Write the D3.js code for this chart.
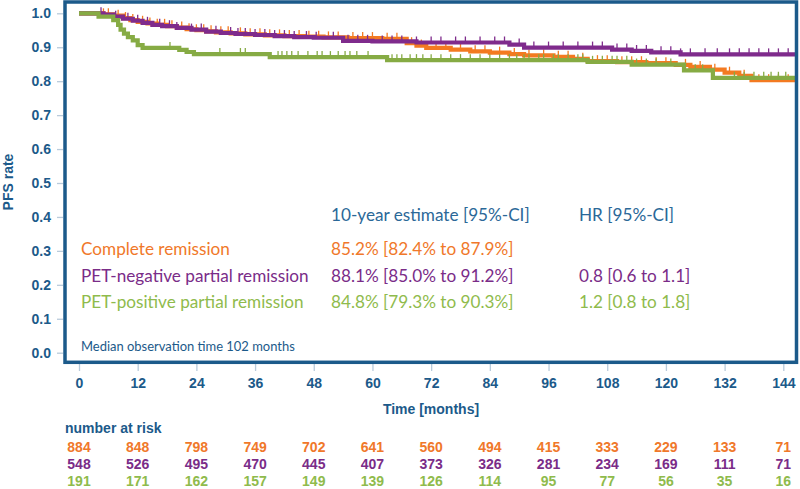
<!DOCTYPE html>
<html><head><meta charset="utf-8">
<script src="https://cdn.jsdelivr.net/npm/d3@7"></script>
<style>
html,body{margin:0;padding:0;background:#fff;}
svg{display:block;}
</style></head>
<body>
<svg id="chart" width="800" height="489"></svg>
<script>
// ---------- data ----------
const monthTicks = [0,12,24,36,48,60,72,84,96,108,120,132,144];
const yTicks = [0,0.1,0.2,0.3,0.4,0.5,0.6,0.7,0.8,0.9,1.0];
const groups = ["Complete remission","PET-negative partial remission","PET-positive partial remission"];
const estimates = ["85.2% [82.4% to 87.9%]","88.1% [85.0% to 91.2%]","84.8% [79.3% to 90.3%]"];
const hazardRatios = ["","0.8 [0.6 to 1.1]","1.2 [0.8 to 1.8]"];
const riskCR = [884,848,798,749,702,641,560,494,415,333,229,133,71];
const riskPN = [548,526,495,470,445,407,373,326,281,234,169,111,71];
const riskPP = [191,171,162,157,149,139,126,114,95,77,56,35,16];

// step curves: time (months) where survival changes, and new survival value
const crTimes = [0,5,7,9,10.5,12,14,16,18,20,22,24,26,28,31,34,38,42,46,50,55,62,67,69,71,76,80,84,88,91,97,101,104,110,116,122,125,129,132,135,137.5,146.6];
const crSurv  = [1,0.997,0.993,0.986,0.980,0.975,0.970,0.966,0.962,0.958,0.953,0.950,0.947,0.944,0.941,0.938,0.935,0.933,0.931,0.929,0.927,0.925,0.912,0.905,0.898,0.893,0.888,0.884,0.880,0.876,0.872,0.866,0.859,0.856,0.853,0.848,0.842,0.834,0.825,0.816,0.803,0.803];
const pnTimes = [0,5,7,9,11,13,15,17,20,23,26,29,32,36,40,44,48,54,60,69,88,91,109,113,117,123,146.6];
const pnSurv  = [1,0.996,0.990,0.984,0.978,0.972,0.966,0.962,0.957,0.952,0.946,0.942,0.939,0.936,0.933,0.930,0.928,0.919,0.917,0.914,0.908,0.899,0.893,0.889,0.885,0.879,0.879];
const ppTimes = [0,4,7,8,8.5,9.2,10,11,12,13,20.5,22,23.5,39,63,104,113,123.7,129.6,146.6];
const ppSurv  = [1,0.990,0.980,0.966,0.952,0.940,0.930,0.920,0.906,0.898,0.892,0.886,0.880,0.871,0.862,0.857,0.849,0.832,0.810,0.810];

const crCensor = [5,6,8,9.5,11,13,14.5,16,17.5,19,21,22.5,24,25.5,27,29,30.5,33,35,37,39,41,43,45,47,49,51,53,56,58,60,63,65,68,70,73,75,78,81,83,86,89,92,95,98,100,103,106,108,111,113,115,118,120,124,127,130,133,136,139,141,143,145];
const pnCensor = [4.5,7.5,10,12,14,16.5,18.5,20,23,25,28,31,32.5,34,36,38,40,42,44,46.5,48.5,52,55,57,59,62,64,66,69,72,74,77,79,82,85,87,90,93,96,99,102,105,107,110,112,114,116,119,121,123,125,128,130.5,133,135,137,139,141,143,145];
const ppCensor = [18.6,28.8,33,34,40.7,41.5,42.5,43.5,44.8,46.8,48.7,49.7,51.4,53,54.4,55.4,56.8,59.1,64,65,66,67.7,69,70.3,72,74,76,78,80,82,84,86,88,89.5,91,92,94,95,97,98,100,102,103,105,107,109,110,112,114,116,118,121,126,127.5,134,136,138,140,141.5,143,144.5];

// ---------- styles ----------
const navy = "#1c5a8a";
const tickGrey = "#b9cbdb";
const lineColors = ["#f37a21","#7f2b8c","#86ab44"];
const textColors = ["#f0782a","#7a2c88","#8fbb4c"];
const headerColor = "#2b6898";

const svg = d3.select("#chart");
const x = d3.scaleLinear().domain([0,144]).range([79,783.3]);
const y = d3.scaleLinear().domain([0,1]).range([352.7,13.3]);

// clip to plot frame
svg.append("defs").append("clipPath").attr("id","clip")
  .append("rect").attr("x",66).attr("y",3).attr("width",729).attr("height",358);

// ---------- axes ----------
const yAxis = d3.axisLeft(y).tickValues(yTicks).tickFormat(d3.format(".1f")).tickSize(6).tickPadding(6);
const gy = svg.append("g").attr("transform","translate(63,0)").call(yAxis);
gy.select(".domain").remove();
gy.selectAll(".tick line").attr("stroke",tickGrey).attr("stroke-width",1.3);
gy.selectAll(".tick text").attr("fill",navy).attr("font-family","'Liberation Sans',Arial,sans-serif")
  .attr("font-weight","bold").attr("font-size",14);

const xAxis = d3.axisBottom(x).tickValues(monthTicks).tickFormat(d3.format("d")).tickSize(7).tickPadding(7);
const gx = svg.append("g").attr("transform","translate(0,364)").call(xAxis);
gx.select(".domain").remove();
gx.selectAll(".tick line").attr("stroke",tickGrey).attr("stroke-width",1.3);
gx.selectAll(".tick text").attr("fill",navy).attr("font-family","'Liberation Sans',Arial,sans-serif")
  .attr("font-weight","bold").attr("font-size",14);

// axis titles
svg.append("text").attr("transform","translate(13,182) rotate(-90)").attr("text-anchor","middle")
  .attr("fill",navy).attr("font-family","'Liberation Sans',Arial,sans-serif").attr("font-weight","bold")
  .attr("font-size",14).text("PFS rate");
svg.append("text").attr("x",431).attr("y",414).attr("text-anchor","middle")
  .attr("fill",navy).attr("font-family","'Liberation Sans',Arial,sans-serif").attr("font-weight","bold")
  .attr("font-size",14).text("Time [months]");

// ---------- curves ----------
const series = [
  {t:crTimes,s:crSurv,c:crCensor},
  {t:pnTimes,s:pnSurv,c:pnCensor},
  {t:ppTimes,s:ppSurv,c:ppCensor}
];
function survAt(sr, tt){
  let v = sr.s[0];
  for(let i=0;i<sr.t.length;i++){ if(sr.t[i] <= tt) v = sr.s[i]; }
  return v;
}
const line = d3.line().x(d=>x(d[0])).y(d=>y(d[1])).curve(d3.curveStepAfter);
const plot = svg.append("g").attr("clip-path","url(#clip)");
series.forEach((sr,i)=>{
  const pts = sr.t.map((t,k)=>[t,sr.s[k]]);
  const g = plot.append("g");
  g.append("path").datum(pts).attr("d",line).attr("fill","none")
    .attr("stroke",lineColors[i]).attr("stroke-width",4.2);
  g.selectAll("line.cens").data(sr.c).join("line").attr("class","cens")
    .attr("x1",d=>x(d)).attr("x2",d=>x(d))
    .attr("y1",d=>y(survAt(sr,d))-6).attr("y2",d=>y(survAt(sr,d))+1)
    .attr("stroke",lineColors[i]).attr("stroke-width",1.3);
});

// frame
svg.append("rect").attr("x",65).attr("y",2).attr("width",731.5).attr("height",360.3)
  .attr("fill","none").attr("stroke",navy).attr("stroke-width",3.5);

// ---------- legend / estimates ----------
const legFont = "Lato, 'Open Sans', sans-serif";
// size the legend font so "Complete remission" spans ~149 px as in the reference
const probe = svg.append("text").attr("font-family",legFont).attr("font-size",100).text(groups[0]);
const legSize = 100*149/probe.node().getComputedTextLength();
probe.remove();

const rowsY = [255,281.5,308];
svg.append("text").attr("x",331).attr("y",221).attr("fill",headerColor).attr("font-family",legFont)
  .attr("font-size",legSize).text("10-year estimate [95%-CI]");
svg.append("text").attr("x",579).attr("y",221).attr("fill",headerColor).attr("font-family",legFont)
  .attr("font-size",legSize).text("HR [95%-CI]");
groups.forEach((g,i)=>{
  svg.append("text").attr("x",81).attr("y",rowsY[i]).attr("fill",textColors[i]).attr("font-family",legFont)
    .attr("font-size",legSize).text(g);
  svg.append("text").attr("x",331).attr("y",rowsY[i]).attr("fill",textColors[i]).attr("font-family",legFont)
    .attr("font-size",legSize).text(estimates[i]);
  if(hazardRatios[i]) svg.append("text").attr("x",579).attr("y",rowsY[i]).attr("fill",textColors[i]).attr("font-family",legFont)
    .attr("font-size",legSize).text(hazardRatios[i]);
});
const probe2 = svg.append("text").attr("font-family",legFont).attr("font-size",100).text("Median observation time 102 months");
const medSize = 100*214/probe2.node().getComputedTextLength();
probe2.remove();
svg.append("text").attr("x",81).attr("y",351).attr("fill",navy).attr("font-family",legFont)
  .attr("font-size",medSize).text("Median observation time 102 months");

// ---------- number at risk ----------
svg.append("text").attr("x",65).attr("y",433).attr("fill",navy).attr("font-family","'Liberation Sans',Arial,sans-serif")
  .attr("font-weight","bold").attr("font-size",14).text("number at risk");
[riskCR,riskPN,riskPP].forEach((arr,i)=>{
  svg.append("g").selectAll("text").data(arr).join("text")
    .attr("x",(d,k)=>x(monthTicks[k])).attr("y",451.5+i*17.3).attr("text-anchor","middle")
    .attr("fill",textColors[i]).attr("font-family","'Liberation Sans',Arial,sans-serif")
    .attr("font-weight","bold").attr("font-size",14).text(d=>d);
});
</script>
</body></html>
